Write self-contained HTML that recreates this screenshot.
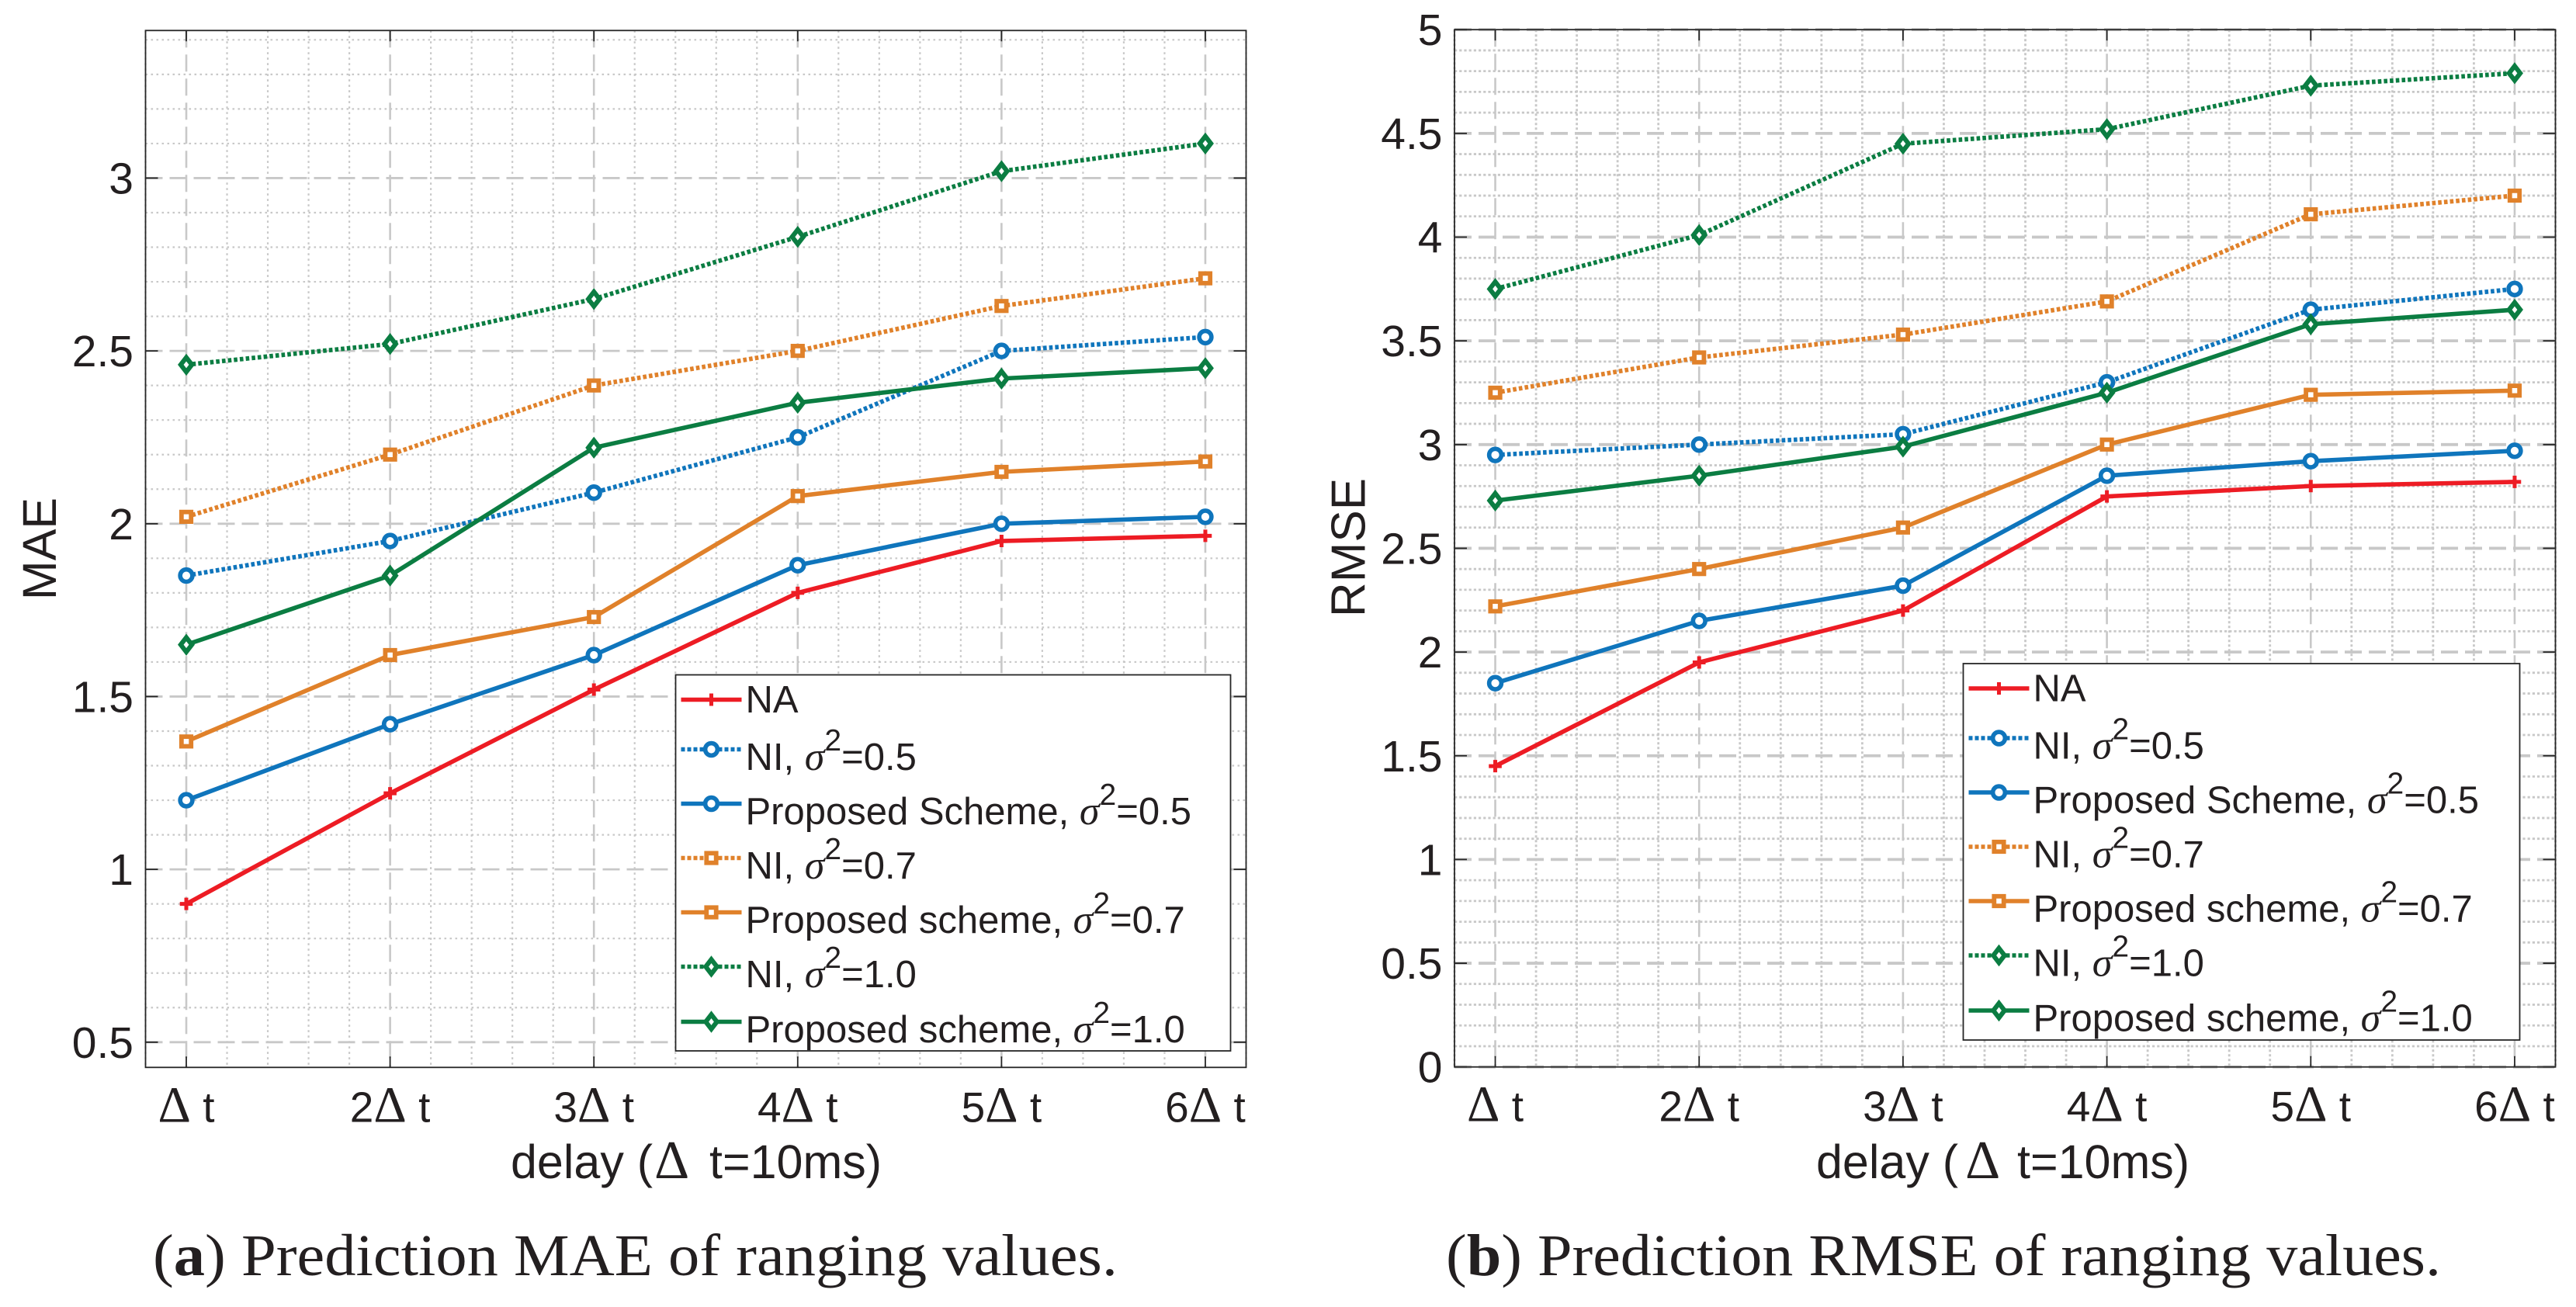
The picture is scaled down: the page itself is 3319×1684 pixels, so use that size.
<!DOCTYPE html>
<html lang="en">
<head>
<meta charset="utf-8">
<title>Prediction MAE and RMSE of ranging values</title>
<style>
html,body{margin:0;padding:0;background:#fff;}
svg{display:block;}
text{font-family:"Liberation Sans",sans-serif;fill:#231f20;}
</style>
</head>
<body>
<svg id="figure" xmlns="http://www.w3.org/2000/svg" width="3319" height="1684" viewBox="0 0 3319 1684">
  <rect x="0" y="0" width="3319" height="1684" fill="#ffffff"/>
  <g id="panel-a"></g>
  <g id="panel-b"></g>

  <text transform="translate(72,707) rotate(-90)" text-anchor="middle" font-size="61">MAE</text>
  <text transform="translate(1758.5,705.5) rotate(-90)" text-anchor="middle" font-size="62">RMSE</text>

  <text x="658" y="1518" font-size="61">delay (<tspan font-size="70" dx="2" style="font-family:'Liberation Serif',serif">Δ</tspan><tspan dx="9"> t=10ms)</tspan></text>
  <text x="2340" y="1518" font-size="61">delay (<tspan font-size="70" dx="9" style="font-family:'Liberation Serif',serif">Δ</tspan><tspan dx="5"> t=10ms)</tspan></text>

  <text x="197" y="1643" font-size="76" textLength="1243" lengthAdjust="spacingAndGlyphs" style="font-family:'Liberation Serif',serif">(<tspan font-weight="bold">a</tspan>) Prediction MAE of ranging values.</text>
  <text x="1863" y="1643" font-size="76" textLength="1282" lengthAdjust="spacingAndGlyphs" style="font-family:'Liberation Serif',serif">(<tspan font-weight="bold">b</tspan>) Prediction RMSE of ranging values.</text>
</svg>

<script>
// ---- data ----
const categories = ['Δ t', '2Δ t', '3Δ t', '4Δ t', '5Δ t', '6Δ t'];

const maeTickLabels = ['0.5', '1', '1.5', '2', '2.5', '3'];
const rmseTickLabels = ['0', '0.5', '1', '1.5', '2', '2.5', '3', '3.5', '4', '4.5', '5'];

const maeNA = [0.9, 1.22, 1.52, 1.8, 1.95, 1.965];
const maeNI05 = [1.85, 1.95, 2.09, 2.25, 2.5, 2.54];
const maePS05 = [1.2, 1.42, 1.62, 1.88, 2.0, 2.02];
const maeNI07 = [2.02, 2.2, 2.4, 2.5, 2.63, 2.71];
const maePS07 = [1.37, 1.62, 1.73, 2.08, 2.15, 2.18];
const maeNI10 = [2.46, 2.52, 2.65, 2.83, 3.02, 3.1];
const maePS10 = [1.65, 1.85, 2.22, 2.35, 2.42, 2.45];

const rmseNA = [1.45, 1.95, 2.2, 2.75, 2.8, 2.82];
const rmseNI05 = [2.95, 3.0, 3.05, 3.3, 3.65, 3.75];
const rmsePS05 = [1.85, 2.15, 2.32, 2.85, 2.92, 2.97];
const rmseNI07 = [3.25, 3.42, 3.53, 3.69, 4.11, 4.2];
const rmsePS07 = [2.22, 2.4, 2.6, 3.0, 3.24, 3.26];
const rmseNI10 = [3.75, 4.01, 4.45, 4.52, 4.73, 4.79];
const rmsePS10 = [2.73, 2.85, 2.99, 3.25, 3.58, 3.65];

const legendPrefixes = ['NA', 'NI, ', 'Proposed Scheme, ', 'NI, ', 'Proposed scheme, ', 'NI, ', 'Proposed scheme, '];
const legendValues = ['', '0.5', '0.5', '0.7', '0.7', '1.0', '1.0'];

// ---- styling and layout ----
const NS = 'http://www.w3.org/2000/svg';
const seriesStyles = [
  {key: 'na', color: '#ed1c24', dotted: false, marker: 'plus'},
  {key: 'ni-05', color: '#0f75bc', dotted: true, marker: 'circle'},
  {key: 'proposed-05', color: '#0f75bc', dotted: false, marker: 'circle'},
  {key: 'ni-07', color: '#e0812a', dotted: true, marker: 'square'},
  {key: 'proposed-07', color: '#e0812a', dotted: false, marker: 'square'},
  {key: 'ni-10', color: '#0b7d42', dotted: true, marker: 'diamond'},
  {key: 'proposed-10', color: '#0b7d42', dotted: false, marker: 'diamond'}
];
const GRID = '#c8c8c8';
const AXIS = '#262626';

function make(parent, tag, attrs) {
  const el = document.createElementNS(NS, tag);
  for (const k in attrs) el.setAttribute(k, attrs[k]);
  parent.appendChild(el);
  return el;
}

function drawMarker(parent, kind, color, x, y) {
  let el;
  if (kind === 'circle') {
    el = make(parent, 'circle', {cx: x, cy: y, r: 7.9, stroke: color, fill: '#ffffff', 'stroke-width': 5.6});
  } else if (kind === 'square') {
    el = make(parent, 'rect', {x: x - 6.2, y: y - 6.2, width: 12.4, height: 12.4, stroke: color, fill: '#ffffff', 'stroke-width': 5.8});
  } else if (kind === 'diamond') {
    const p = 'M' + x + ' ' + (y - 9.3) + 'L' + (x + 7.2) + ' ' + y + 'L' + x + ' ' + (y + 9.3) + 'L' + (x - 7.2) + ' ' + y + 'Z';
    el = make(parent, 'path', {d: p, stroke: color, fill: '#ffffff', 'stroke-width': 6});
  } else {
    const p = 'M' + (x - 8.3) + ' ' + y + 'H' + (x + 8.3) + 'M' + x + ' ' + (y - 8) + 'V' + (y + 8);
    el = make(parent, 'path', {d: p, stroke: color, fill: 'none', 'stroke-width': 5});
  }
  
  
  return el;
}

function drawChart(panel) {
  const root = document.getElementById(panel.id);
  const xAt = function (i) { return panel.left + (i + 1 - 0.8) / 5.4 * (panel.right - panel.left); };
  const xRaw = function (v) { return panel.left + (v - 0.8) / 5.4 * (panel.right - panel.left); };
  const yAt = function (v) { return panel.bottom - (v - panel.yMin) / (panel.yMax - panel.yMin) * (panel.bottom - panel.top); };

  // minor grid
  const minor = make(root, 'g', {});
  
  
  for (let k = 0; k <= 27; k++) {
    if (k % 5 === 1) continue;
    const x = xRaw(0.8 + k * 0.2);
    make(minor, 'line', {x1: x, x2: x, y1: panel.top, y2: panel.bottom, stroke: GRID, 'stroke-width': panel.minorW, 'stroke-dasharray': panel.minorDashV});
  }
  const firstTick = parseFloat(panel.ticks[0]);
  const lastTick = parseFloat(panel.ticks[panel.ticks.length - 1]);
  for (let k = Math.ceil(panel.yMin * 10 - 1e-6); k <= Math.floor(panel.yMax * 10 + 1e-6); k++) {
    if (k % 5 === 0 && k / 10 >= firstTick && k / 10 <= lastTick) continue;
    const y = yAt(k / 10);
    make(minor, 'line', {x1: panel.left, x2: panel.right, y1: y, y2: y, stroke: GRID, 'stroke-width': panel.minorW, 'stroke-dasharray': panel.minorDashH});
  }

  // major grid
  const major = make(root, 'g', {});
  
  
  categories.forEach(function (c, i) {
    const x = xAt(i);
    make(major, 'line', {x1: x, x2: x, y1: panel.top, y2: panel.bottom, stroke: GRID, 'stroke-width': 2.6, 'stroke-dasharray': '22 9'});
  });
  panel.ticks.forEach(function (t) {
    const y = yAt(parseFloat(t));
    make(major, 'line', {x1: panel.left, x2: panel.right, y1: y, y2: y, stroke: GRID, 'stroke-width': panel.majorW, 'stroke-dasharray': '22 9'});
  });

  // axes box and ticks
  const box = make(root, 'rect', {x: panel.left, y: panel.top, width: panel.right - panel.left, height: panel.bottom - panel.top, fill: 'none', stroke: AXIS, 'stroke-width': 1.8});
  
  

  categories.forEach(function (c, i) {
    const x = xAt(i);
    const tb = make(root, 'path', {d: 'M' + x + ' ' + panel.bottom + 'v-14M' + x + ' ' + panel.top + 'v14', stroke: AXIS, 'stroke-width': 1.8, fill: 'none'});
    
    

    const label = make(root, 'text', {x: x, y: panel.bottom + 70, 'text-anchor': 'middle', 'font-size': 55});
    
    
    const parts = c.split('Δ');
    label.appendChild(document.createTextNode(parts[0]));
    const delta = make(label, 'tspan', {'font-size': 66, style: "font-family:'Liberation Serif',serif"});
    delta.textContent = 'Δ';
    label.appendChild(document.createTextNode(parts[1]));
  });

  panel.ticks.forEach(function (t) {
    const y = yAt(parseFloat(t));
    const tk = make(root, 'path', {d: 'M' + panel.left + ' ' + y + 'h16M' + panel.right + ' ' + y + 'h-16', stroke: AXIS, 'stroke-width': 1.8, fill: 'none'});
    
    

    const label = make(root, 'text', {x: panel.left - 15.5, y: y + 20, 'text-anchor': 'end', 'font-size': 57});
    
    
    label.textContent = t;
  });

  // series
  panel.series.forEach(function (values, s) {
    const st = seriesStyles[s];
    const g = make(root, 'g', {});
    
    
    const pts = values.map(function (v, i) { return xAt(i) + ',' + yAt(v); }).join(' ');
    const line = make(g, 'polyline', {points: pts, fill: 'none', stroke: st.color, 'stroke-width': st.dotted ? 5.8 : 5.6, 'stroke-linejoin': 'round'});
    
    
    if (st.dotted) line.setAttribute('stroke-dasharray', '4.6 3.1');
    values.forEach(function (v, i) { drawMarker(g, st.marker, st.color, xAt(i), yAt(v)); });
  });

  // legend
  const L = panel.legend;
  const lg = make(root, 'g', {});
  
  
  make(lg, 'rect', {x: L.x, y: L.y, width: L.w, height: L.h, fill: '#ffffff', stroke: AXIS, 'stroke-width': 1.8});
  const rowOffsets = [32, 96, 166, 236, 306, 376, 447];
  legendPrefixes.forEach(function (prefix, r) {
    const st = seriesStyles[r];
    const rowY = L.y + rowOffsets[r];
    const row = make(lg, 'g', {});
    
    
    const sample = make(row, 'line', {x1: L.x + 7, x2: L.x + 85, y1: rowY, y2: rowY, stroke: st.color, 'stroke-width': 5.6});
    
    
    if (st.dotted) sample.setAttribute('stroke-dasharray', '5 3');
    drawMarker(row, st.marker, st.color, L.x + 46, rowY);

    const hasSigma = legendValues[r] !== '';
    const txt = make(row, 'text', {x: L.x + 90, y: rowY + (hasSigma ? 26.5 : 16.5), 'font-size': 49});
    
    
    txt.appendChild(document.createTextNode(prefix));
    if (hasSigma) {
      const sig = make(txt, 'tspan', {'font-size': 52, 'font-style': 'italic', style: "font-family:'Liberation Serif',serif"});
      sig.textContent = 'σ';
      const sup = make(txt, 'tspan', {'font-size': 39, dy: -25});
      sup.textContent = '2';
      const rest = make(txt, 'tspan', {dy: 25});
      rest.textContent = '=' + legendValues[r];
    }
  });
}

drawChart({
  id: 'panel-a', left: 187.5, right: 1605.5, top: 39.3, bottom: 1375.3,
  yMin: 0.427, yMax: 3.427, ticks: maeTickLabels, minorW: 2.2, majorW: 2.8,
  minorDashH: '2.6 4.4', minorDashV: '2.6 4.4',
  series: [maeNA, maeNI05, maePS05, maeNI07, maePS07, maeNI10, maePS10],
  legend: {x: 870.5, y: 869.5, w: 715, h: 484.5}
});
drawChart({
  id: 'panel-b', left: 1874, right: 3292.5, top: 38.2, bottom: 1374.7,
  yMin: 0, yMax: 5, ticks: rmseTickLabels, minorW: 2.8, majorW: 3.8,
  minorDashH: '3.2 3', minorDashV: '3 3',
  series: [rmseNA, rmseNI05, rmsePS05, rmseNI07, rmsePS07, rmseNI10, rmsePS10],
  legend: {x: 2529.5, y: 855, w: 717, h: 485}
});
</script>
</body>
</html>
